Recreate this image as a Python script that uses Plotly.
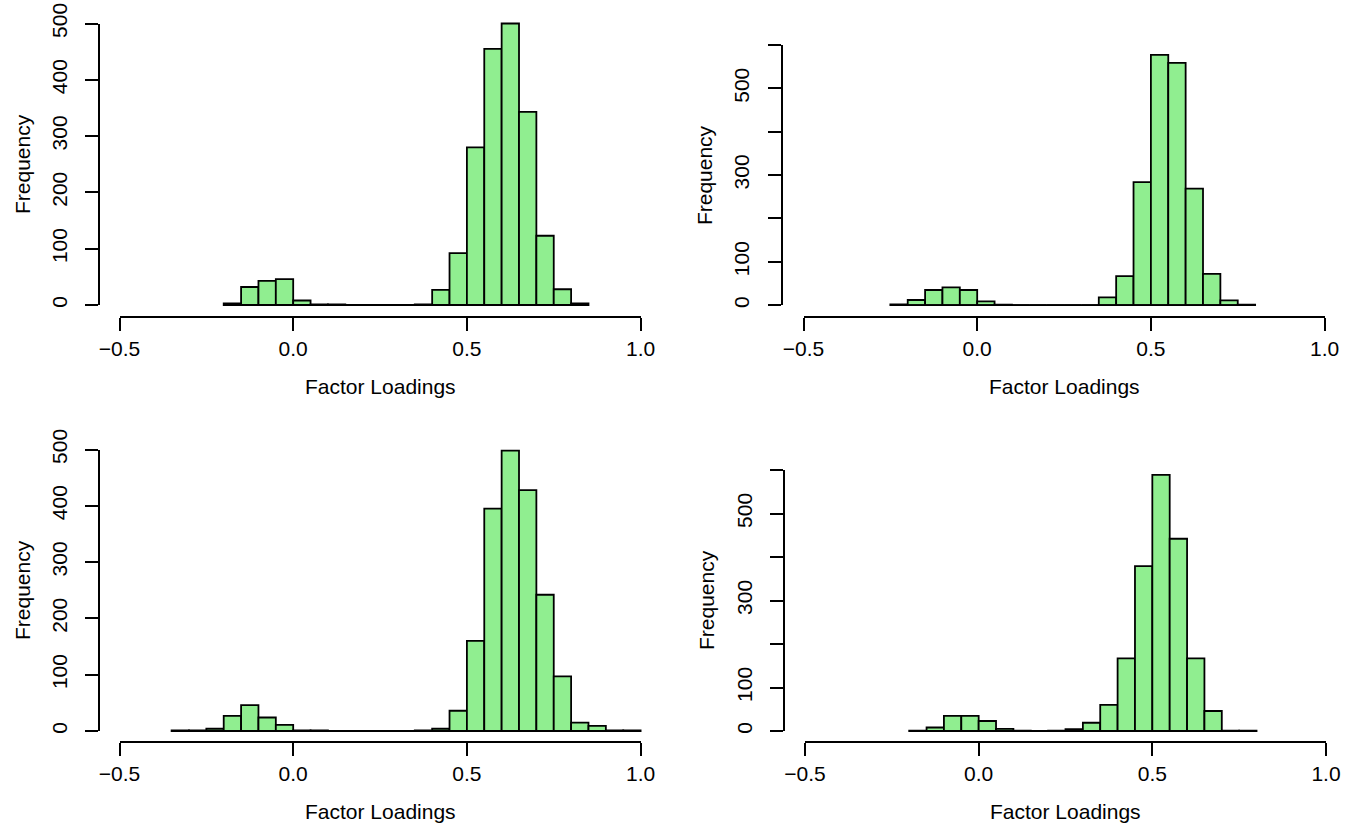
import plotly.graph_objects as go

# ---------------- data (histogram counts) ----------------
BIN_WIDTH = 0.05

p1_first_edge = -0.20
p1_counts = [3, 32, 43, 46, 8, 1, 1, 0, 0, 0, 0, 1, 27, 92, 280, 455, 500, 343, 123, 28, 3]

p2_first_edge = -0.25
p2_counts = [2, 12, 35, 41, 35, 9, 1, 0, 0, 0, 0, 0, 18, 67, 284, 577, 559, 269, 72, 11, 1]

p3_first_edge = -0.35
p3_counts = [1, 1, 4, 27, 46, 24, 11, 1, 1, 0, 0, 0, 0, 0, 1, 4, 36, 160, 395, 498, 428,
             242, 97, 15, 9, 1, 1]

p4_first_edge = -0.20
p4_counts = [1, 8, 35, 35, 23, 5, 1, 0, 1, 4, 19, 60, 167, 379, 589, 442, 167, 46, 1, 1]

x_tickvals = [-0.5, 0.0, 0.5, 1.0]
x_ticktext = ["\u22120.5", "0.0", "0.5", "1.0"]

y_tickvals_500 = [0, 100, 200, 300, 400, 500]
y_ticktext_500 = ["0", "100", "200", "300", "400", "500"]
y_tickvals_600 = [0, 100, 200, 300, 400, 500, 600]
y_ticktext_600 = ["0", "100", "", "300", "", "500", ""]

x_title = "Factor Loadings"
y_title = "Frequency"

# ---------------- layout geometry (pixels) ----------------
W, H = 1352, 825
FONT = "Liberation Sans, Arial, Helvetica, sans-serif"
FS = 21
FILL = "#90EE90"
LW = 1.8

panels = [
    dict(first=p1_first_edge, counts=p1_counts, ymax=500, yv=y_tickvals_500, yt=y_ticktext_500,
         xm05=119.5, x1=640.6, y0=305.0, ytop=23.5, xline=317.3, yline=99.3, xt_y=386.0),
    dict(first=p2_first_edge, counts=p2_counts, ymax=600, yv=y_tickvals_600, yt=y_ticktext_600,
         xm05=803.5, x1=1324.6, y0=305.2, ytop=45.0, xline=316.8, yline=781.5, xt_y=386.0),
    dict(first=p3_first_edge, counts=p3_counts, ymax=500, yv=y_tickvals_500, yt=y_ticktext_500,
         xm05=119.5, x1=640.6, y0=731.0, ytop=449.5, xline=742.3, yline=99.3, xt_y=811.5),
    dict(first=p4_first_edge, counts=p4_counts, ymax=600, yv=y_tickvals_600, yt=y_ticktext_600,
         xm05=805.0, x1=1326.0, y0=731.0, ytop=470.0, xline=742.3, yline=784.0, xt_y=811.5),
]

fig = go.Figure()
layout = dict(
    width=W, height=H,
    margin=dict(l=0, r=0, t=0, b=0, pad=0, autoexpand=False),
    paper_bgcolor="white", plot_bgcolor="rgba(0,0,0,0)",
    showlegend=False,
    font=dict(family=FONT, size=FS, color="black"),
    annotations=[],
)

for i, p in enumerate(panels):
    n = len(p["counts"])
    edges = [round(p["first"] + k * BIN_WIDTH, 4) for k in range(n + 1)]
    centers = [round((edges[k] + edges[k + 1]) / 2, 4) for k in range(n)]

    def px(v, p=p):
        return p["xm05"] + (v + 0.5) / 1.5 * (p["x1"] - p["xm05"])

    def py(c, p=p):
        return p["y0"] - c / p["ymax"] * (p["y0"] - p["ytop"])

    ymax = p["ymax"]
    xr = [-0.56, 1.06]
    yr = [-0.04 * ymax, 1.04 * ymax]

    dxa = f"x{i + 1}"
    dya = f"y{i + 1}"
    sxa = f"x{i + 5}"
    sya = f"y{i + 5}"

    # data axes (hidden) covering the full plotting region
    layout[f"xaxis{i + 1}"] = dict(
        domain=[px(xr[0]) / W, px(xr[1]) / W], range=xr, visible=False,
        anchor=dya, fixedrange=True, automargin=False)
    layout[f"yaxis{i + 1}"] = dict(
        domain=[1 - py(yr[0]) / H, 1 - py(yr[1]) / H], range=yr, visible=False,
        anchor=dxa, fixedrange=True, automargin=False)

    # display axes (R style, detached)
    layout[f"xaxis{i + 5}"] = dict(
        domain=[px(-0.5) / W, px(1.0) / W], range=[-0.5, 1.0],
        anchor="free", position=1 - p["xline"] / H, automargin=False,
        showline=True, linecolor="black", linewidth=LW,
        ticks="outside", ticklen=13, tickwidth=LW, tickcolor="black",
        tickvals=x_tickvals, ticktext=x_ticktext,
        showgrid=False, zeroline=False, fixedrange=True,
        tickfont=dict(family=FONT, size=FS, color="black"))
    layout[f"yaxis{i + 5}"] = dict(
        domain=[1 - py(0) / H, 1 - py(ymax) / H], range=[0, ymax],
        anchor="free", position=p["yline"] / W, automargin=False,
        showline=True, linecolor="black", linewidth=LW,
        ticks="outside", ticklen=13, tickwidth=LW, tickcolor="black",
        tickvals=p["yv"], ticktext=p["yt"], tickangle=-90, ticklabelstandoff=10,
        showgrid=False, zeroline=False, fixedrange=True,
        tickfont=dict(family=FONT, size=FS, color="black"))

    # baseline drawn by zero-height cells
    fig.add_trace(go.Scatter(
        x=[edges[0], edges[-1]], y=[0, 0], mode="lines",
        line=dict(color="black", width=LW), xaxis=dxa, yaxis=dya,
        hoverinfo="skip"))
    fig.add_trace(go.Bar(
        x=centers, y=p["counts"], width=BIN_WIDTH,
        marker=dict(color=FILL, line=dict(color="black", width=LW)),
        xaxis=dxa, yaxis=dya))
    # empty trace to realise the display axes
    fig.add_trace(go.Scatter(x=[None], y=[None], mode="markers",
                             xaxis=sxa, yaxis=sya, hoverinfo="skip"))

    # axis titles
    layout["annotations"].append(dict(
        text=x_title, xref="paper", yref="paper",
        x=px(0.25) / W, y=1 - p["xt_y"] / H,
        xanchor="center", yanchor="middle", showarrow=False,
        font=dict(family=FONT, size=FS, color="black")))
    layout["annotations"].append(dict(
        text=y_title, xref="paper", yref="paper",
        x=(p["yline"] - 77.5) / W, y=1 - py(ymax / 2) / H,
        xanchor="center", yanchor="middle", showarrow=False, textangle=-90,
        font=dict(family=FONT, size=FS, color="black")))

fig.update_layout(**layout)
fig.write_html("out.html")
